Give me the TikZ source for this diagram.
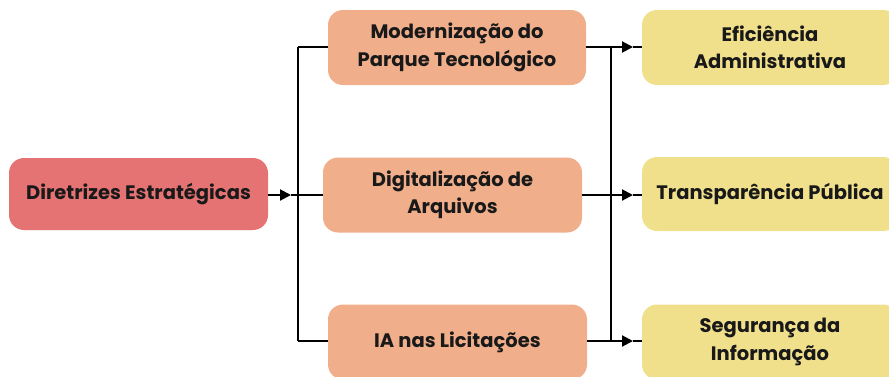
\documentclass[tikz,border=0pt]{standalone}
\usepackage{fontspec}
\setmainfont{Poppins}
\usetikzlibrary{arrows.meta,positioning}
\definecolor{dirred}{HTML}{E57373}
\definecolor{midorange}{HTML}{F0AE8B}
\definecolor{resyellow}{HTML}{F0E08C}
\tikzset{
    box/.style={rounded corners=15pt, align=center, inner sep=0pt,
        text=black!90, font=\fontsize{19.5}{27.5}\selectfont\bfseries},
    link/.style={line width=2pt, black},
    tip/.style={-{Triangle[length=11pt,width=11pt]}}
}

\begin{document}
\begin{tikzpicture}[x=1pt, y=-1pt]
    \useasboundingbox (0,0) rectangle (889,376);
    % nodes
    \node[box, fill=dirred, minimum width=259pt, minimum height=72pt] (dir) at (138.5,194) {Diretrizes Estratégicas};
    \node[box, fill=midorange, minimum width=258pt, minimum height=75pt] (mod) at (457,47.5) {Modernização do\\Parque Tecnológico};
    \node[box, fill=midorange, minimum width=259pt, minimum height=75pt] (dig) at (452.5,195) {Digitalização de\\Arquivos};
    \node[box, fill=midorange, minimum width=259pt, minimum height=75pt] (ia) at (457.5,342) {IA nas Licitações};
    \node[box, fill=resyellow, minimum width=256pt, minimum height=75pt] (efi) at (770,47.5) {Eficiência\\Administrativa};
    \node[box, fill=resyellow, minimum width=256pt, minimum height=74pt] (tra) at (770,194) {Transparência Pública};
    \node[box, fill=resyellow, minimum width=256pt, minimum height=75pt] (seg) at (770,342) {Segurança da\\Informação};
    % buses
    \coordinate (lt) at (298,47);
    \coordinate (lb) at (298,341);
    \coordinate (rt) at (611,47);
    \coordinate (rb) at (611,341);
    \coordinate (da) at (291,195);
    \coordinate (lm) at (298,195);
    \coordinate (ea) at (633,47);
    \coordinate (ta) at (633,195);
    \coordinate (sa) at (633,341);
    \draw[link] (lt) -- (lb) (rt) -- (rb);
    \draw[link, tip] (dir.east |- da) -- (da);
    \draw[link] (da) -- (lm);
    \draw[link] (lt) -- (mod.west |- lt) (lm) -- (dig.west |- lm) (lb) -- (ia.west |- lb);
    \draw[link, tip] (mod.east |- ea) -- (ea);
    \draw[link, tip] (dig.east |- ta) -- (ta);
    \draw[link, tip] (ia.east |- sa) -- (sa);
    \draw[link] (ea) -- (efi.west |- ea) (ta) -- (tra.west |- ta) (sa) -- (seg.west |- sa);
\end{tikzpicture}
\end{document}
